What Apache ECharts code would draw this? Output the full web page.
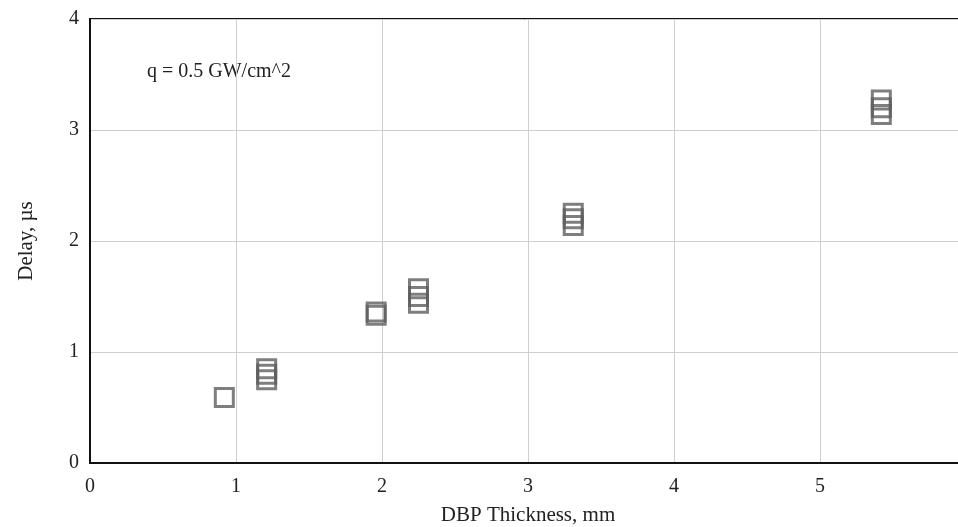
<!DOCTYPE html>
<html>
<head>
<meta charset="utf-8">
<script src="https://cdn.jsdelivr.net/npm/echarts@6/dist/echarts.min.js"></script>
<style>
  html, body { margin: 0; padding: 0; background: #fff; }
  #chart { width: 958px; height: 527px; }
</style>
</head>
<body>
<div id="chart"></div>
<script>
// measured points (several repeated shots per thickness)
var thickness = [0.92, 1.21, 1.21, 1.21, 1.96, 1.96, 2.25, 2.25, 2.25, 3.31, 3.31, 3.31, 5.42, 5.42, 5.42]
var delay = [0.59, 0.75, 0.80, 0.85, 1.33, 1.36, 1.44, 1.50, 1.57, 2.14, 2.20, 2.25, 3.14, 3.20, 3.27]
var xTicks = [0, 1, 2, 3, 4, 5]
var yTicks = [0, 1, 2, 3, 4]

var font = 'Liberation Serif, Times New Roman, serif'
var myChart = echarts.init(document.getElementById('chart'))

var points = thickness.map(function (x, i) { return [x, delay[i]] })

myChart.setOption({
  animation: false,
  grid: {
    left: 90,
    top: 19,
    right: -8,
    bottom: 64,
    outerBoundsMode: 'none',
    show: true,
    borderColor: '#111',
    borderWidth: 2
  },
  graphic: [
    {
      type: 'text',
      left: 147,
      top: 62,
      style: {
        text: 'q = 0.5 GW/cm^2',
        font: '20px ' + font,
        fill: '#222'
      }
    }
  ],
  xAxis: {
    type: 'value',
    min: 0,
    max: 6,
    interval: 1,
    name: 'DBP Thickness, mm',
    nameLocation: 'middle',
    nameGap: 42,
    nameTextStyle: { fontFamily: font, fontSize: 21, color: '#222' },
    axisLine: { lineStyle: { color: '#111', width: 2 } },
    axisTick: { show: false },
    axisLabel: {
      fontFamily: font,
      fontSize: 20,
      color: '#222',
      margin: 14,
      formatter: function (v) { return xTicks.indexOf(v) >= 0 ? String(v) : '' }
    },
    splitLine: { lineStyle: { color: '#cfcfcf', width: 1 } }
  },
  yAxis: {
    type: 'value',
    min: 0,
    max: 4,
    interval: 1,
    name: 'Delay, µs',
    nameLocation: 'middle',
    nameGap: 53,
    nameTextStyle: { fontFamily: font, fontSize: 21, color: '#222' },
    axisLine: { show: true, lineStyle: { color: '#111', width: 2 } },
    axisTick: { show: false },
    axisLabel: {
      fontFamily: font,
      fontSize: 20,
      color: '#222',
      margin: 11,
      formatter: function (v) { return yTicks.indexOf(v) >= 0 ? String(v) : '' }
    },
    splitLine: { lineStyle: { color: '#cfcfcf', width: 1 } }
  },
  series: [
    {
      type: 'scatter',
      data: points,
      symbol: 'rect',
      symbolSize: 18,
      itemStyle: {
        color: 'rgba(0,0,0,0)',
        borderColor: '#5e5e5e',
        borderWidth: 3
      }
    }
  ]
})
</script>
</body>
</html>
